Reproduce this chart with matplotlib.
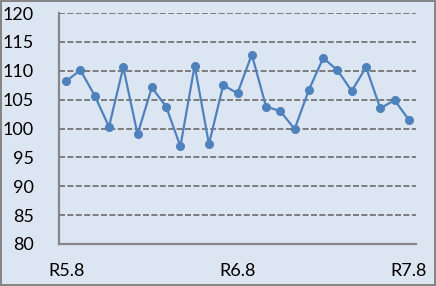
import matplotlib.pyplot as plt
import numpy as np

# значения ряда
values = [108.2, 110.1, 105.7, 100.3, 110.6, 99.0, 107.1, 103.8, 96.9, 110.9,
          97.3, 107.5, 106.1, 112.8, 103.8, 103.0, 99.9, 106.7, 112.2, 110.1,
          106.5, 110.6, 103.5, 104.9, 101.5]
tick_pos = [0, 12, 24]
tick_labels = ['R5.8', 'R6.8', 'R7.8']
y_ticks = list(range(80, 121, 5))

bg = '#DCE6F2'
grey = '#868686'

fig = plt.figure(figsize=(4.36, 2.86), dpi=100, facecolor=bg,
                 edgecolor=grey, linewidth=1.5)
ax = fig.add_axes([59/436, 42/286, 357/436, 231/286])
ax.set_facecolor(bg)

x = np.arange(len(values))
ax.plot(x, values, color='#4F81BD', lw=1.6, marker='o', ms=5.5)

ax.set_xlim(-0.5, len(values) - 0.5)
ax.set_ylim(80, 120)
ax.set_yticks(y_ticks)
ax.set_xticks(tick_pos)
ax.set_xticklabels(tick_labels)

# пунктирная сетка
for yv in y_ticks[1:]:
    ax.axhline(yv, color='#7F7F7F', lw=1.44, ls=(0, (3, 1.2)), zorder=0)

for s in ['top', 'right']:
    ax.spines[s].set_visible(False)
for s in ['left', 'bottom']:
    ax.spines[s].set_color(grey)
    ax.spines[s].set_linewidth(1.6)

ax.tick_params(axis='y', length=0, pad=18, labelsize=13)
ax.tick_params(axis='x', length=0, pad=14, labelsize=13)
for lbl in ax.get_xticklabels() + ax.get_yticklabels():
    lbl.set_family(['Lato', 'DejaVu Sans'])

fig.savefig('out.png', dpi=100, facecolor=bg, edgecolor=grey)
